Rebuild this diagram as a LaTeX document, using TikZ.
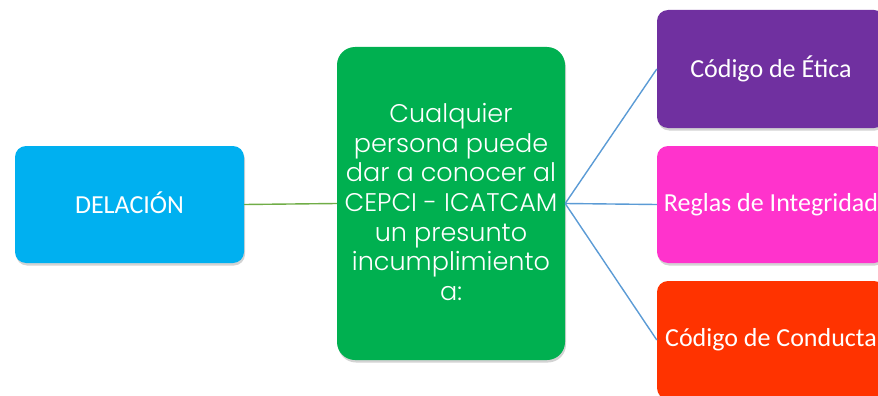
\documentclass[tikz,border=0pt]{standalone}
\usepackage{fontspec}
\setmainfont{Carlito}
\newfontfamily\thinfont{Poppins Light}
\usetikzlibrary{shadows}
\definecolor{cblue}{HTML}{00B0F0}
\definecolor{cgreen}{HTML}{00B050}
\definecolor{cpurple}{HTML}{7030A0}
\definecolor{cmagenta}{HTML}{FF33CC}
\definecolor{cred}{HTML}{FF3300}
\definecolor{glink}{HTML}{70AD47}
\definecolor{blink}{HTML}{5B9BD5}
\begin{document}
\begin{tikzpicture}[x=1pt,y=-1pt,
  box/.style={rounded corners=11pt, text=white, inner sep=0pt,
    font=\fontsize{26}{30}\selectfont,
    drop shadow={opacity=0.35, shadow xshift=1pt, shadow yshift=-2.5pt}},
  glinkstyle/.style={draw=glink, line width=1.4pt},
  blinkstyle/.style={draw=blink, line width=1.4pt}]
\useasboundingbox (0,0) rectangle (878,396);
\clip (0,0) rectangle (878,396);
\node[box, fill=cblue, minimum width=229pt, minimum height=117pt] (del) at (129.5,204.5) {\raisebox{-8.5pt}[0pt][0pt]{DELACIÓN}};
\node[box, fill=cgreen, rounded corners=18pt, minimum width=228pt, minimum height=313pt] (grn) at (451,203.5) {};
\node[align=center, text=white, inner sep=0pt, font=\thinfont\fontsize{25.5}{29.7}\selectfont] (grntext) at (451,202)
  {Cualquier\\persona puede\\dar a conocer al\\CEPCI - ICATCAM\\un presunto\\incumplimiento\\a:};
\node[box, fill=cpurple, minimum width=228pt, minimum height=118pt] (eti) at (771,69) {Código de Ética};
\node[box, fill=cmagenta, minimum width=228pt, minimum height=117pt] (reg) at (771,204.5) {Reglas de Integridad};
\node[box, fill=cred, minimum width=228pt, minimum height=118pt] (con) at (771,340) {Código de Conducta};
\draw[glinkstyle] (del.east) -- (grn.west);
\draw[blinkstyle] (grn.east) -- (eti.west);
\draw[blinkstyle] (grn.east) -- (reg.west);
\draw[blinkstyle] (grn.east) -- (con.west);
\end{tikzpicture}
\end{document}
